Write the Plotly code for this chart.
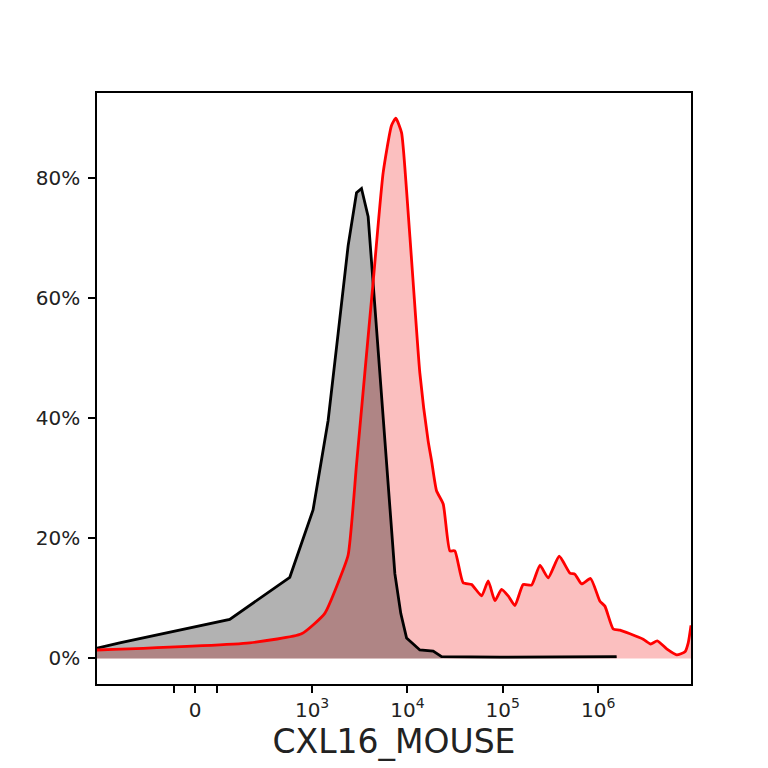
import plotly.graph_objects as go

# x in axis display units (logicle-like scale: 3 = 10^3, 4 = 10^4 ...)
xTickVals = [1.772, 3, 4, 5, 6]
xTickText = ["0", "10<sup>3</sup>", "10<sup>4</sup>", "10<sup>5</sup>", "10<sup>6</sup>"]
xMinorVals = [1.549, 2.003]
yTickVals = [0, 20, 40, 60, 80]
yTickText = ["0%", "20%", "40%", "60%", "80%"]

# control (black)
blackX = [0.744, 0.982, 2.136, 2.766, 3.010, 3.168, 3.273, 3.378, 3.466, 3.518,
          3.588, 3.658, 3.728, 3.797, 3.868, 3.930, 3.991, 4.130, 4.270, 4.358,
          4.970, 5.600, 6.194]
blackY = [1.7, 2.6, 6.5, 13.5, 24.7, 39.6, 54.1, 68.7, 77.5, 78.2,
          73.5, 59.0, 44.4, 29.3, 14.1, 7.5, 3.4, 1.4, 1.2, 0.3,
          0.2, 0.25, 0.3]

# CXL16 stained (red)
redX = [0.744, 2.346, 2.889, 3.133, 3.273, 3.378, 3.466, 3.553, 3.640, 3.745,
        3.833, 3.878, 3.938, 3.991, 4.060, 4.130, 4.217, 4.253, 4.305, 4.375,
        4.445, 4.497, 4.584, 4.673, 4.778, 4.847, 4.917, 4.987, 5.057, 5.127,
        5.214, 5.302, 5.389, 5.476, 5.592, 5.704, 5.757, 5.827, 5.921, 6.019,
        6.071, 6.158, 6.229, 6.334, 6.473, 6.551, 6.620, 6.719, 6.824, 6.911,
        6.945, 6.974]
redY = [1.4, 2.6, 4.1, 7.5, 12.6, 17.2, 32.3, 47.5, 62.6, 80.8,
        88.7, 89.9, 87.5, 77.8, 62.6, 47.5, 36.2, 32.9, 27.9, 25.7,
        17.9, 17.9, 12.6, 12.3, 10.4, 12.9, 9.6, 11.5, 10.4, 8.8,
        12.3, 12.2, 15.5, 13.4, 17.0, 14.2, 14.0, 12.4, 13.3, 9.5,
        8.7, 4.9, 4.7, 4.1, 3.2, 2.4, 2.9, 1.6, 0.6, 1.1,
        2.6, 5.5]

fig = go.Figure()

# fills first, lines on top
fig.add_trace(go.Scatter(
  x=redX, y=redY, mode="lines", fill="tozeroy",
  fillcolor="rgba(240,0,0,0.25)", line=dict(width=0, shape="spline", smoothing=0.5),
  showlegend=False,
))
fig.add_trace(go.Scatter(
  x=blackX, y=blackY, mode="lines", fill="tozeroy",
  fillcolor="rgba(0,0,0,0.3)", line=dict(width=0), showlegend=False,
))
fig.add_trace(go.Scatter(
  x=blackX, y=blackY, mode="lines",
  line=dict(color="black", width=2.8), showlegend=False,
))
fig.add_trace(go.Scatter(
  x=redX, y=redY, mode="lines",
  line=dict(color="red", width=2.8, shape="spline", smoothing=0.5), showlegend=False,
))

axisStyle = dict(
  showline=True, mirror=True, linecolor="black", linewidth=1.5,
  ticks="outside", ticklen=7, tickwidth=1.5, tickcolor="black",
  showgrid=False, zeroline=False,
)

fig.update_layout(
  width=768, height=768,
  margin=dict(l=89, r=85, t=85, b=92),
  paper_bgcolor="white", plot_bgcolor="white",
  font=dict(family="DejaVu Sans", size=20, color="#222"),
  xaxis=dict(
    range=[0.744, 6.974], tickmode="array",
    tickvals=xTickVals, ticktext=xTickText,
    minor=dict(tickmode="array", tickvals=xMinorVals, ticks="outside",
               ticklen=7, tickwidth=1.5, tickcolor="black", showgrid=False),
    title=dict(text="CXL16_MOUSE", font=dict(size=33, color="#222"), standoff=8),
    **axisStyle,
  ),
  yaxis=dict(
    range=[-4.26, 94.1], tickmode="array",
    tickvals=yTickVals, ticktext=yTickText,
    ticklabelstandoff=4,
    **axisStyle,
  ),
)

fig.write_html("out.html")
